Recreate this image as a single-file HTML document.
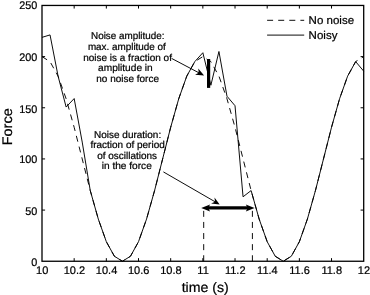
<!DOCTYPE html>
<html><head><meta charset="utf-8"><title>Force plot</title>
<style>html,body{margin:0;padding:0;background:#fff}body{width:370px;height:295px;overflow:hidden}</style>
</head><body>
<svg width="370" height="295" viewBox="0 0 370 295" style="display:block">
<rect width="370" height="295" fill="#fff"/>
<g fill="none" stroke="#000">
<path d="M42.00,56.61 L50.04,61.62 L58.08,76.15 L66.13,98.79 L74.17,127.31 L82.21,158.93 L90.26,190.55 L98.30,219.07 L106.34,241.71 L114.38,256.24 L122.42,261.25 L130.47,256.24 L138.51,241.71 L146.55,219.07 L154.59,190.55 L162.64,158.93 L170.68,127.31 L178.72,98.79 L186.77,76.15 L194.81,61.62 L202.85,56.61 L210.89,61.62 L218.93,76.15 L226.98,98.79 L235.02,127.31 L243.06,158.93 L251.11,190.55 L259.15,219.07 L267.19,241.71 L275.23,256.24 L283.27,261.25 L291.32,256.24 L299.36,241.71 L307.40,219.07 L315.44,190.55 L323.49,158.93 L331.53,127.31 L339.57,98.79 L347.62,76.15 L355.66,61.62 L363.70,56.61" stroke-width="0.95" stroke-dasharray="6 5.07"/>
<path d="M42.00,37.37 L50.04,34.92 L58.08,76.15 L66.13,107.05 L74.17,98.56 L82.21,142.05 L90.26,190.55 L98.30,219.07 L106.34,241.71 L114.38,256.24 L122.42,261.25 L130.47,256.24 L138.51,241.71 L146.55,219.07 L154.59,190.55 L162.64,158.93 L170.68,127.31 L178.72,98.79 L186.77,76.15 L194.81,61.62 L202.85,52.72 L210.89,85.26 L218.93,51.49 L226.98,96.21 L235.02,105.72 L243.06,196.79 L251.11,190.55 L259.15,219.07 L267.19,241.71 L275.23,256.24 L283.27,261.25 L291.32,256.24 L299.36,241.71 L307.40,219.07 L315.44,190.55 L323.49,158.93 L331.53,127.31 L339.57,98.79 L347.62,76.15 L355.66,61.62 L363.70,71.14" stroke-width="0.95" stroke-linejoin="miter"/>
<path d="M203.7,261.25 V207.8 M252.4,261.25 V207.8" stroke-width="0.95" stroke-dasharray="6 5.1"/>
<rect x="42.0" y="5.45" width="321.70" height="255.80" stroke-width="1.3"/>
<path d="M74.17,261.25 v-3.1 M74.17,5.45 v3.1 M106.34,261.25 v-3.1 M106.34,5.45 v3.1 M138.51,261.25 v-3.1 M138.51,5.45 v3.1 M170.68,261.25 v-3.1 M170.68,5.45 v3.1 M202.85,261.25 v-3.1 M202.85,5.45 v3.1 M235.02,261.25 v-3.1 M235.02,5.45 v3.1 M267.19,261.25 v-3.1 M267.19,5.45 v3.1 M299.36,261.25 v-3.1 M299.36,5.45 v3.1 M331.53,261.25 v-3.1 M331.53,5.45 v3.1 M42.0,210.09 h3.1 M363.7,210.09 h-3.1 M42.0,158.93 h3.1 M363.7,158.93 h-3.1 M42.0,107.77 h3.1 M363.7,107.77 h-3.1 M42.0,56.61 h3.1 M363.7,56.61 h-3.1" stroke-width="1"/>
<path d="M267.1,20.3 H304.2" stroke-width="0.95" stroke-dasharray="6 5.1"/>
<path d="M267.1,35.1 H304.2" stroke-width="0.95"/>
<path d="M208.6,59 V87.9" stroke-width="3.2"/>
<path d="M207,207.95 H249" stroke-width="3.3"/>
<path d="M171.6,58.4 L200.5,73.65" stroke-width="0.95"/>
<path d="M163.4,171.9 L216,202.3" stroke-width="0.95"/>
</g>
<g fill="#000">
<path d="M201.2,207.95 L210.1,204.5 L208.2,207.95 L210.1,211.4 Z"/>
<path d="M254.6,207.95 L245.8,204.5 L247.7,207.95 L245.8,211.4 Z"/>
<path d="M204.10,75.55 L195.08,74.64 L198.71,72.70 L198.26,68.62 Z"/>
<path d="M219.70,204.45 L211.07,203.39 L215.03,201.75 L214.48,197.50 Z"/>
</g>
<g font-family="'Liberation Sans', Arial, Helvetica, sans-serif" fill="#000" stroke="#000" stroke-width="0.22" text-rendering="geometricPrecision">
<g font-size="11px" text-anchor="end">
<text transform="translate(37.30,266.15) scale(0.985,1)">0</text>
<text transform="translate(37.30,214.77) scale(0.985,1)">50</text>
<text transform="translate(37.30,163.39) scale(0.985,1)">100</text>
<text transform="translate(37.30,112.81) scale(0.985,1)">150</text>
<text transform="translate(37.30,60.63) scale(0.985,1)">200</text>
<text transform="translate(37.30,9.25) scale(0.985,1)">250</text>
</g>
<g font-size="11px" text-anchor="middle">
<text transform="translate(42.20,273.60) scale(1.0,1)">10</text>
<text transform="translate(74.37,273.60) scale(1.0,1)">10.2</text>
<text transform="translate(106.54,273.60) scale(1.0,1)">10.4</text>
<text transform="translate(138.71,273.60) scale(1.0,1)">10.6</text>
<text transform="translate(170.88,273.60) scale(1.0,1)">10.8</text>
<text transform="translate(203.05,273.60) scale(1.0,1)">11</text>
<text transform="translate(235.22,273.60) scale(1.0,1)">11.2</text>
<text transform="translate(267.39,273.60) scale(1.0,1)">11.4</text>
<text transform="translate(299.56,273.60) scale(1.0,1)">11.6</text>
<text transform="translate(331.73,273.60) scale(1.0,1)">11.8</text>
<text transform="translate(363.90,273.60) scale(1.0,1)">12</text>
</g>
<g font-size="13.8px" text-anchor="middle">
<text transform="translate(205.20,291.60) scale(1.025,1)">time (s)</text>
</g>
<g font-size="13.9px" text-anchor="middle">
<text transform="translate(12.3,126.8) rotate(-90) scale(1.04,1)">Force</text>
</g>
<g font-size="11.3px">
<text transform="translate(308.60,23.65) scale(1.02,1)">No noise</text>
<text transform="translate(308.60,38.80) scale(1.02,1)">Noisy</text>
</g>
<g font-size="9.9px" text-anchor="middle">
<text transform="translate(127.75,39.05) scale(0.998,1)">Noise amplitude:</text>
<text transform="translate(126.85,49.85) scale(1.0,1)">max. amplitude of</text>
<text transform="translate(127.55,60.85) scale(1.01,1)">noise is a fraction of</text>
<text transform="translate(125.40,71.15) scale(1.027,1)">amplitude in</text>
<text transform="translate(127.60,81.85) scale(1.01,1)">no noise force</text>
<text transform="translate(127.60,137.55) scale(1.01,1)">Noise duration:</text>
<text transform="translate(127.60,148.45) scale(1.01,1)">fraction of period</text>
<text transform="translate(127.10,158.65) scale(1.01,1)">of oscillations</text>
<text transform="translate(126.75,169.45) scale(1.025,1)">in the force</text>
</g>
</g>
</svg>
</body></html>
